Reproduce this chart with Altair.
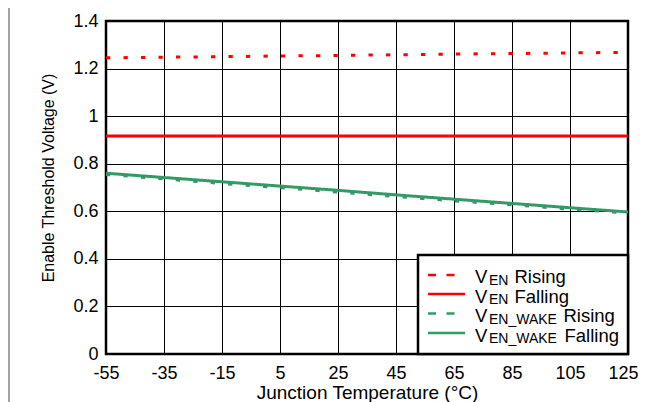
import altair as alt
import pandas as pd

temps = [-55, -35, -15, 5, 25, 45, 65, 85, 105, 125]
ven_rising = [1.245, 1.248, 1.250, 1.253, 1.255, 1.258, 1.261, 1.263, 1.266, 1.268]
ven_falling = [0.917, 0.917, 0.917, 0.917, 0.917, 0.917, 0.917, 0.917, 0.917, 0.917]
wake_rising = [0.755, 0.736, 0.717, 0.699, 0.681, 0.662, 0.644, 0.627, 0.609, 0.593]
wake_falling = [0.760, 0.742, 0.724, 0.706, 0.688, 0.669, 0.651, 0.633, 0.615, 0.597]

series_names = ["VEN Rising", "VEN Falling", "VEN_WAKE Rising", "VEN_WAKE Falling"]
series_colors = ["#FF0000", "#FF0000", "#339966", "#339966"]
legend_sub = ["EN", "EN", "EN_WAKE", "EN_WAKE"]
legend_rest = ["Rising", "Falling", "Rising", "Falling"]

x_ticks = [-55, -35, -15, 5, 25, 45, 65, 85, 105, 125]
y_ticks = [0, 0.2, 0.4, 0.6, 0.8, 1, 1.2, 1.4]

rows = []
for name, vals in zip(series_names, [ven_rising, ven_falling, wake_rising, wake_falling]):
    for t, v in zip(temps, vals):
        rows.append({"temp": t, "volt": v, "series": name})
df = pd.DataFrame(rows)

FONT = "Liberation Sans"
plot_dash = [4.3, 13.2]
dash_range = [plot_dash, [1, 0], plot_dash, [1, 0]]

lines = alt.Chart(df).mark_line(strokeWidth=3).encode(
    x=alt.X("temp:Q",
            scale=alt.Scale(domain=[-55, 125], nice=False, zero=False),
            axis=alt.Axis(values=x_ticks, title="Junction Temperature (°C)",
                          labelExpr="'' + datum.value",
                          labelOffset={"condition": {"test": "datum.value == 125", "value": -5}, "value": 0},
                          labelPadding=10, titlePadding=1, titleFontSize=19,
                          labelFlush=False, labelOverlap=False)),
    y=alt.Y("volt:Q",
            scale=alt.Scale(domain=[0, 1.4], nice=False),
            axis=alt.Axis(values=y_ticks, labelExpr="'' + datum.value",
                          title="Enable Threshold Voltage (V)",
                          labelPadding=8, titlePadding=16, titleFontSize=16, titleY=156.5,
                          labelFlush=False, labelOverlap=False)),
    color=alt.Color("series:N", scale=alt.Scale(domain=series_names, range=series_colors), legend=None),
    strokeDash=alt.StrokeDash("series:N", scale=alt.Scale(domain=series_names, range=dash_range), legend=None),
)

one = alt.Data(values=[{"k": 1}])

frame_left = alt.Chart(one).mark_rule(color="#666666", strokeWidth=1.2).encode(
    x=alt.value(-97), y=alt.value(-13), y2=alt.value(400))

legend_box = alt.Chart(one).mark_rect(fill="white", stroke="black", strokeWidth=2.5).encode(
    x=alt.value(312), x2=alt.value(522), y=alt.value(234), y2=alt.value(333))

layers = [lines, frame_left, legend_box]

sample_y = [254, 273, 292.5, 312]
base_y = [262, 281.5, 301, 320.5]
rest_x = [408.5, 408.5, 457.5, 458.5]
for i in range(4):
    dashed = legend_rest[i] == "Rising"
    rule_kwargs = dict(color=series_colors[i], strokeWidth=2.5)
    if dashed:
        rule_kwargs["strokeDash"] = [8, 10.5]
    layers.append(alt.Chart(one).mark_rule(**rule_kwargs).encode(
        x=alt.value(322), x2=alt.value(349 if dashed else 359), y=alt.value(sample_y[i])))
    layers.append(alt.Chart(one).mark_text(text="V", font=FONT, fontSize=18.5, align="left",
                                           baseline="alphabetic", color="black").encode(
        x=alt.value(369), y=alt.value(base_y[i])))
    layers.append(alt.Chart(one).mark_text(text=legend_sub[i], font=FONT, fontSize=14, align="left",
                                           baseline="alphabetic", color="black").encode(
        x=alt.value(383), y=alt.value(base_y[i] + 1.5)))
    layers.append(alt.Chart(one).mark_text(text=legend_rest[i], font=FONT, fontSize=18.5, align="left",
                                           baseline="alphabetic", color="black").encode(
        x=alt.value(rest_x[i]), y=alt.value(base_y[i])))

chart = alt.layer(*layers).properties(
    width=522, height=333,
    autosize=alt.AutoSizeParams(type="none"),
    padding={"left": 98, "top": 13, "right": 10, "bottom": 48},
).configure_view(
    stroke="black", strokeWidth=2.5
).configure_axis(
    grid=True, gridColor="black", gridOpacity=1, gridWidth=1,
    domain=False, ticks=False,
    labelFont=FONT, labelFontSize=18, labelColor="black",
    titleFont=FONT, titleFontWeight="normal", titleColor="black",
)

chart.save("out.html", embed_options={"renderer": "svg", "actions": False})
